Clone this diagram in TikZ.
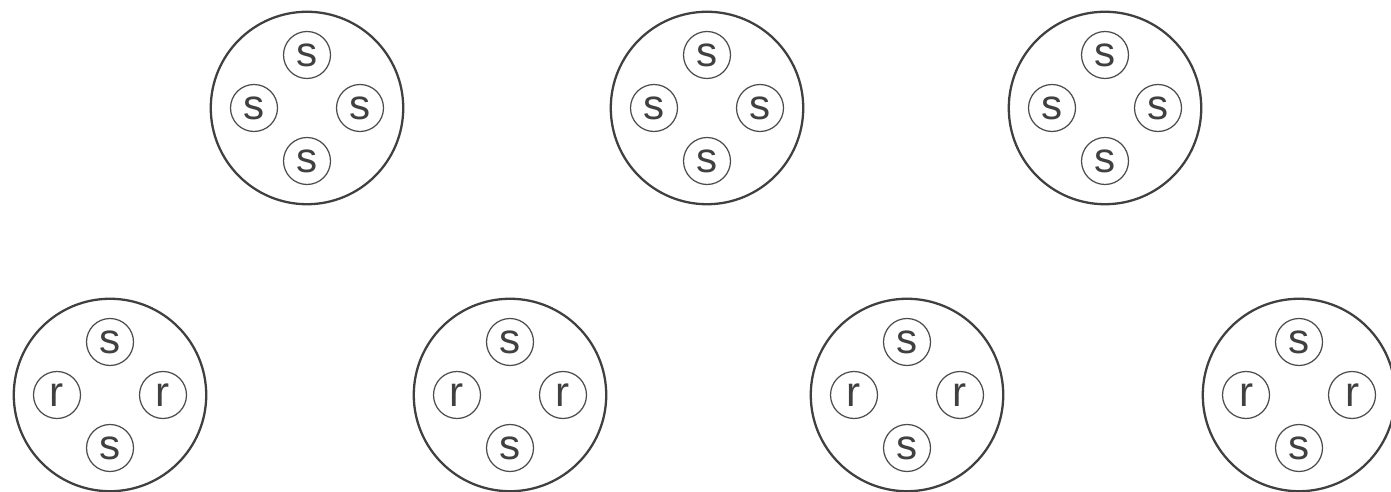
\documentclass[tikz,border=0pt]{standalone}
\usepackage{fontspec}
\setmainfont{Liberation Sans}
\usetikzlibrary{calc}

\begin{document}
\begin{tikzpicture}[
    x=0.02cm, y=-0.02cm,
    % cell and site styles
    cell/.style={circle, draw=black!75, line width=1.3pt, minimum size=3.85cm, inner sep=0},
    site/.style={circle, draw=black!70, line width=0.7pt, minimum size=0.94cm, inner sep=0, text=black!75, font=\fontsize{24}{24}\selectfont}
  ]
  \useasboundingbox (0,0) rectangle (1391,492);

  % Cells: name / x / y / side label
  \foreach \n/\x/\y/\h in {a/307/108/s, b/707/108/s, c/1105/108/s,
                           d/110/395/r, e/510/395/r, f/907/395/r, g/1299/395/r} {
    \node[cell] (\n) at (\x,\y) {};
    \node[site] (\n-n) at ($(\n)+(0,-53)$) {s};
    \node[site] (\n-s) at ($(\n)+(0,53)$) {s};
    \node[site] (\n-w) at ($(\n)+(-53,0)$) {\h};
    \node[site] (\n-e) at ($(\n)+(53,0)$) {\h};
  }
\end{tikzpicture}
\end{document}
